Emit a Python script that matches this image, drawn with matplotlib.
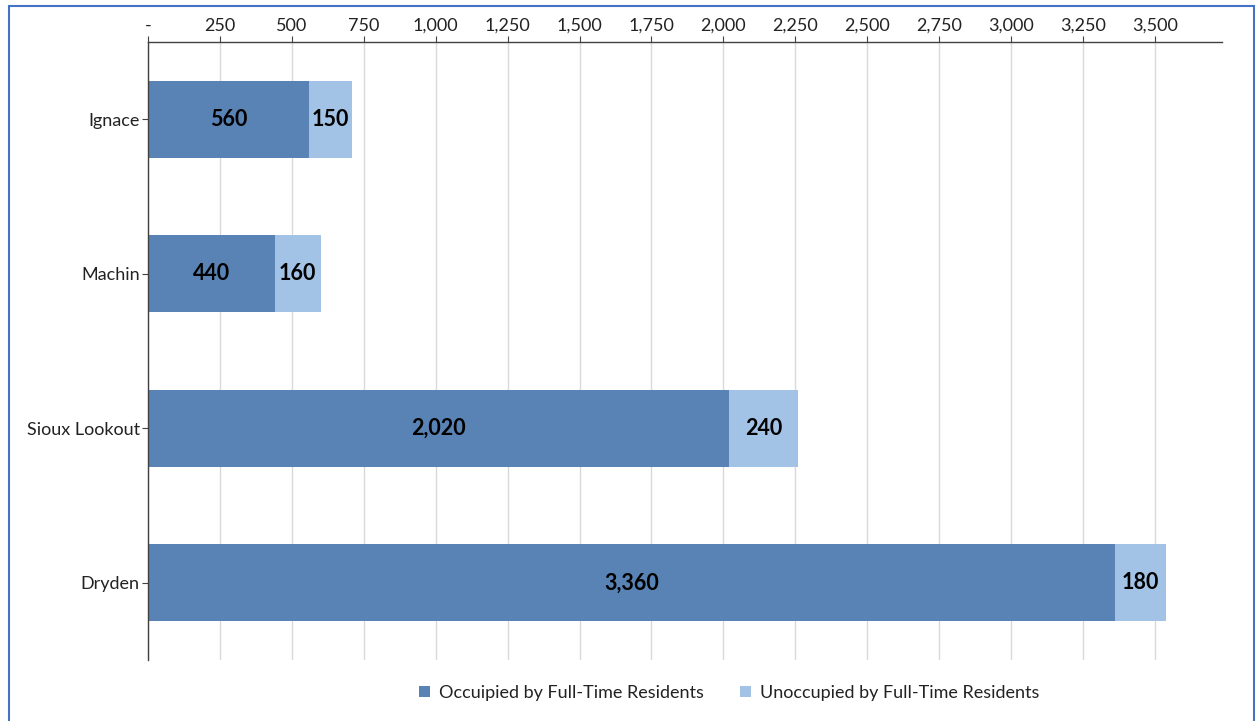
import matplotlib
matplotlib.use("Agg")
import matplotlib.pyplot as plt
from matplotlib.patches import Rectangle
from matplotlib.ticker import FuncFormatter

categories = ["Ignace", "Machin", "Sioux Lookout", "Dryden"]
occupied = [560, 440, 2020, 3360]
unoccupied = [150, 160, 240, 180]
series_names = ["Occuipied by Full-Time Residents", "Unoccupied by Full-Time Residents"]
tick_values = [0, 250, 500, 750, 1000, 1250, 1500, 1750, 2000, 2250, 2500, 2750, 3000, 3250, 3500]

plt.rcParams['font.family'] = ['Lato', 'DejaVu Sans']

W, H = 1257, 721
fig = plt.figure(figsize=(W / 100, H / 100), dpi=100)
ax = fig.add_axes([148 / W, 1 - 660 / H, (1222 - 148) / W, (660 - 42) / H])

dark = "#5983B4"
light = "#A3C3E6"
y = list(range(len(categories)))
b1 = ax.barh(y, occupied, height=0.5, color=dark, label=series_names[0])
b2 = ax.barh(y, unoccupied, left=occupied, height=0.5, color=light, label=series_names[1])

for i in y:
    ax.text(occupied[i] / 2, i, f"{occupied[i]:,}", ha="center", va="center",
            fontsize=15.5, fontweight="bold", color="black")
    ax.text(occupied[i] + unoccupied[i] / 2, i, f"{unoccupied[i]:,}", ha="center", va="center",
            fontsize=15.5, fontweight="bold", color="black")

ax.set_ylim(3.5, -0.5)
ax.set_xlim(0, 3733)
ax.set_yticks(y)
ax.set_yticklabels(categories, fontsize=13)
ax.set_xticks(tick_values)
ax.xaxis.set_major_formatter(FuncFormatter(lambda v, p: "-" if v == 0 else f"{int(v):,}"))
ax.xaxis.tick_top()
ax.tick_params(axis="x", labelsize=13, length=4, color="#404040", pad=2, labelcolor="#222222")
ax.tick_params(axis="y", length=4, color="#404040", pad=2, labelcolor="#222222")
ax.grid(axis="x", color="#D9D9D9", linewidth=1)
ax.set_axisbelow(True)
for s in ["right", "bottom"]:
    ax.spines[s].set_visible(False)
for s in ["left", "top"]:
    ax.spines[s].set_color("#404040")
    ax.spines[s].set_linewidth(1)

fig.legend(handles=[b1, b2], loc="center", bbox_to_anchor=(729 / W, 1 - 693 / H),
           ncol=2, frameon=False, fontsize=13, handlelength=0.6, handleheight=0.6,
           columnspacing=2.0, handletextpad=0.5, labelcolor="#222222")

fig.patches.append(Rectangle((9 / W, -0.01), (1254 - 9) / W, 1 - 6 / H + 0.01,
                             transform=fig.transFigure, fill=False,
                             edgecolor="#4472C4", linewidth=1.5))

fig.savefig("out.png", dpi=100)
